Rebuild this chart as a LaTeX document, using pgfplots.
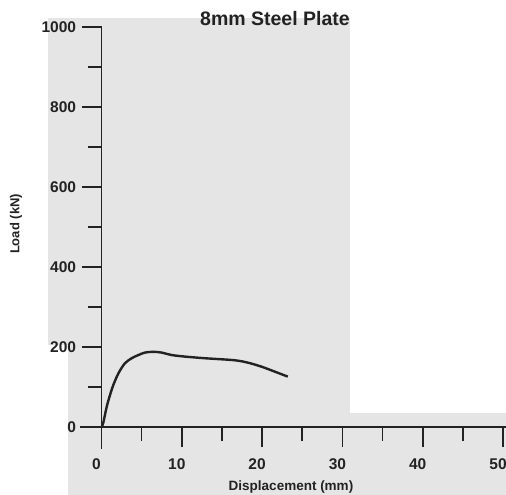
\documentclass[border=0pt]{standalone}
\usepackage{pgfplots}
\pgfplotsset{compat=1.18}
\usepackage{fontspec}
\setmainfont{Liberation Sans}
\definecolor{ink}{HTML}{222222}
\begin{document}
\begin{tikzpicture}
\fill[black!10] (-53.5bp,82bp) rectangle (-33.4bp,409bp);
\fill[black!10] (-33.5bp,-68bp) rectangle (0bp,409bp);
\fill[black!10] (-0.1bp,-68bp) rectangle (248.5bp,409bp);
\fill[black!10] (248.4bp,-68bp) rectangle (404.5bp,14bp);
\begin{axis}[
  at={(-21.5bp,-22bp)}, anchor=south west,
  scale only axis, width=427.5bp, height=422bp,
  xmin=-2.68, xmax=50.56, ymin=-55, ymax=1000,
  axis x line=middle, axis y line=middle,
  axis line style={-, ink, line width=1.6bp},
  hide obscured x ticks=false, hide obscured y ticks=false,
  xtick={0,10,20,30,40,50}, minor xtick={5,15,25,35,45},
  ytick={0,200,400,600,800,1000}, minor ytick={100,300,500,700,900},
  tick align=outside,
  major tick length=20bp, minor tick length=14bp,
  tick style={ink, line width=1.6bp},
  /pgf/number format/assume math mode=true,
  /pgf/number format/set thousands separator={},
  tick label style={font=\fontsize{15.5bp}{17bp}\selectfont\bfseries, text=ink},
  xticklabel style={anchor=north, yshift=-8bp, xshift=-5bp},
  yticklabel style={anchor=east, xshift=-2bp},
  clip=false,
]
\addplot[ink, line width=2.4bp, smooth, tension=0.5] coordinates {
(0,0) (0.2,9) (0.65,51) (1.06,80) (1.47,105) (2.1,134) (2.9,159) (3.76,172)
(4.6,180) (5.4,186) (6.45,188) (7.5,186) (8.7,180) (10.4,176) (12.8,172) (16.5,167)
(18.2,161) (19.9,151) (21.5,139) (22.8,129) (23.2,126)
};
\end{axis}
\node[anchor=base east, font=\fontsize{19.5bp}{22bp}\selectfont\bfseries, text=ink, inner sep=0pt] at (248.5bp,401bp) {8mm Steel Plate};
\node[rotate=90, font=\fontsize{13bp}{15bp}\selectfont\bfseries, text=ink, inner sep=0pt] at (-85.5bp,203bp) {Load (kN)};
\node[font=\fontsize{13.5bp}{15bp}\selectfont\bfseries, text=ink, inner sep=0pt] at (189.5bp,-60bp) {Displacement (mm)};
\pgfresetboundingbox
\path (-101.5bp,-68bp) rectangle (404.5bp,427bp);
\end{tikzpicture}
\end{document}
